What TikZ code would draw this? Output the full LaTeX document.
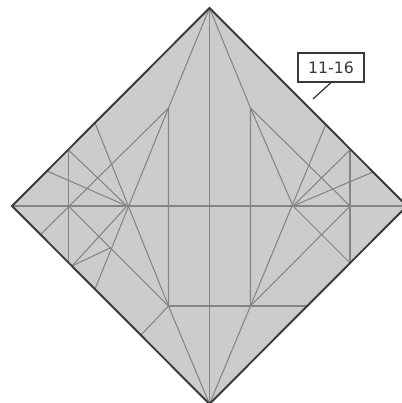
\documentclass[tikz,border=0pt]{standalone}
\usepackage{tikz}
\usepackage{xcolor}
\usepackage{fontspec}
\setmainfont{DejaVu Sans}
\usetikzlibrary{positioning}
\definecolor{PaperGrey}{HTML}{CCCCCC}
\definecolor{EdgeGrey}{HTML}{383838}
\definecolor{CreaseGrey}{HTML}{858585}
\tikzset{
    every node/.style={font=\fontsize{11.2pt}{13pt}\selectfont},
    paperedge/.style={
        draw=EdgeGrey, fill=PaperGrey, line width=1.35pt, line join=miter
    },
    crease/.style={
        draw=CreaseGrey, line width=0.75pt
    },
    refbox/.style={
        draw=EdgeGrey, fill=white, line width=0.9pt, sharp corners,
        text=EdgeGrey, minimum width=47pt, minimum height=20.5pt, inner sep=0pt
    },
    refline/.style={
        draw=EdgeGrey, line width=0.9pt
    },
}

\begin{document}
\begin{tikzpicture}[x=0.025cm,y=-0.025cm]
    \clip (0,0) rectangle (402,403);

    % Paper corners
    \coordinate (top) at (209.5,8);
    \coordinate (left) at (12,206);
    \coordinate (right) at (407,206);
    \coordinate (bottom) at (209.5,404);

    % Paper
    \fill[PaperGrey] (top) -- (right) -- (bottom) -- (left) -- cycle;

    % Inner points
    \coordinate (hubL) at (127,206);
    \coordinate (hubR) at (293,206);
    \coordinate (upL) at (168.5,108);
    \coordinate (upR) at (250.5,108);
    \coordinate (lowL) at (168.5,306);
    \coordinate (lowR) at (250.5,306);
    \coordinate (midL) at (68.5,206);
    \coordinate (midR) at (350,206);
    \coordinate (meet) at (110,248);

    % Points on the edges
    \coordinate (edgeLa) at (68.5,150);
    \coordinate (edgeLb) at (68.5,262.5);
    \coordinate (edgeLc) at (47,171);
    \coordinate (edgeLd) at (95,123);
    \coordinate (edgeLe) at (95,289);
    \coordinate (edgeLf) at (40.5,234.5);
    \coordinate (edgeLg) at (72,266);
    \coordinate (edgeLh) at (141,335);
    \coordinate (edgeRa) at (350,150);
    \coordinate (edgeRb) at (350,263);
    \coordinate (edgeRc) at (373,172);
    \coordinate (edgeRd) at (326,124);
    \coordinate (edgeRe) at (306.5,306);

    % Long creases
    \draw[crease] (left) -- (right);
    \draw[crease] (top) -- (bottom);
    \draw[crease] (top) -- (upL) -- (lowL) -- (bottom);
    \draw[crease] (top) -- (upR) -- (lowR) -- (bottom);
    \draw[crease] (lowL) -- (edgeRe);
    \draw[crease] (lowL) -- (edgeLh);

    % Left fan
    \draw[crease] (edgeLa) -- (edgeLb);
    \draw[crease] (upL) -- (edgeLf);
    \draw[crease] (midL) -- (lowL);
    \draw[crease] (edgeLa) -- (hubL);
    \draw[crease] (edgeLc) -- (hubL);
    \draw[crease] (edgeLd) -- (lowL);
    \draw[crease] (upL) -- (edgeLe);
    \draw[crease] (hubL) -- (edgeLg);
    \draw[crease] (edgeLg) -- (meet);

    % Right fan
    \draw[crease] (edgeRa) -- (edgeRb);
    \draw[crease] (upR) -- (midR) -- (lowR);
    \draw[crease] (upR) -- (hubR) -- (edgeRb);
    \draw[crease] (edgeRd) -- (lowR);
    \draw[crease] (hubR) -- (edgeRa);
    \draw[crease] (hubR) -- (edgeRc);

    % Paper edge on top of the creases
    \draw[paperedge, fill=none] (top) -- (right) -- (bottom) -- (left) -- cycle;

    % Reference label
    \node[refbox] (steplabel) at (331,67.5) {11-16};
    \coordinate (stepend) at (313,99);
    \draw[refline] (steplabel.south) -- (stepend);
\end{tikzpicture}
\end{document}
